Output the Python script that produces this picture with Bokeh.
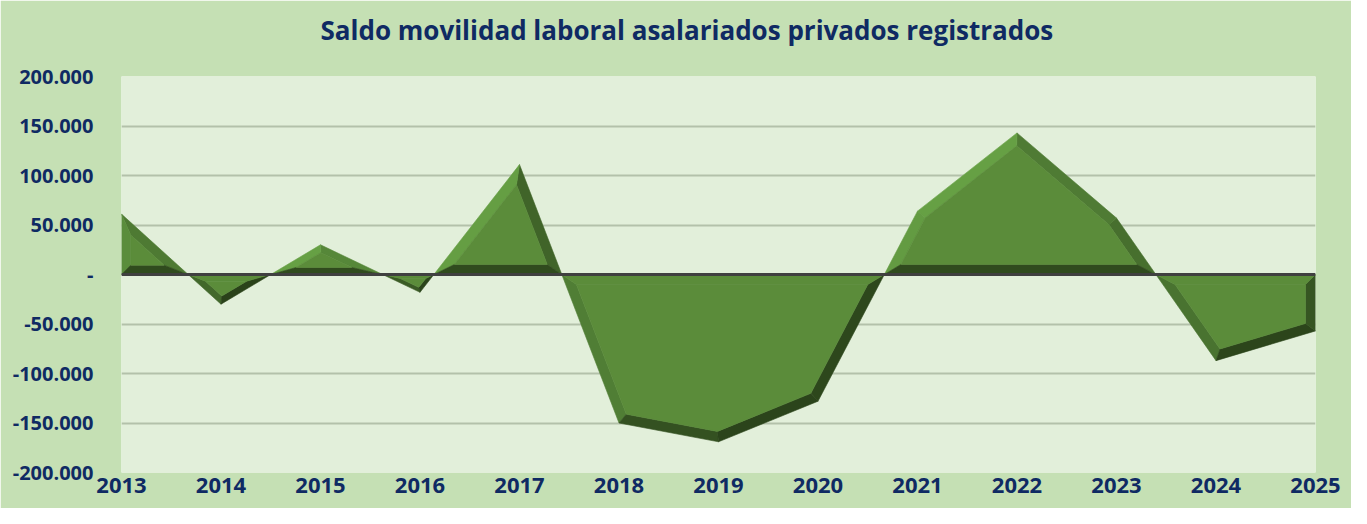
import numpy as np
from bokeh.plotting import figure
from bokeh.models import ColumnDataSource, Range1d, FixedTicker, Span, Title
from bokeh.embed import file_html
from bokeh.resources import INLINE

# ---------------- data ----------------
years = [2013, 2014, 2015, 2016, 2017, 2018, 2019, 2020, 2021, 2022, 2023, 2024, 2025]
saldo = [61000, -30000, 30000, -18000, 111000, -150000, -169000, -128000,
         64000, 143000, 57000, -87000, -57000]
y_ticks = [200000, 150000, 100000, 50000, 0, -50000, -100000, -150000, -200000]
y_tick_labels = ["200.000", "150.000", "100.000", "50.000", "-", "-50.000",
                 "-100.000", "-150.000", "-200.000"]
x_tick_labels = ["2013", "2014", "2015", "2016", "2017", "2018", "2019", "2020",
                 "2021", "2022", "2023", "2024", "2025"]
title_text = "Saldo movilidad laboral asalariados privados registrados"

# ---------------- layout ----------------
W, H = 1351, 508
BL, BR, BT, BB = 121, 36, 76, 36
FW = W - BL - BR
FH = H - BT - BB
NAVY = "#0f2a63"
FONT = "Open Sans"

p = figure(width=W, height=H, x_range=Range1d(years[0], years[-1]),
           y_range=Range1d(-200000, 200000), output_backend="svg",
           toolbar_location=None, min_border_left=BL, min_border_right=BR,
           min_border_top=BT, min_border_bottom=BB)
p.background_fill_color = "#e2efda"
p.border_fill_color = "#c5e0b4"
p.outline_line_color = None

# ---------------- 3D-like bevelled area ----------------
sx = FW / (years[-1] - years[0])
sy = FH / 400000.0
xs = np.array(years, float)
vs = np.array(saldo, float)

pts = [(xs[0], vs[0])]
for i in range(len(xs) - 1):
    v0, v1 = vs[i], vs[i + 1]
    if v0 * v1 < 0:
        xc = xs[i] + v0 / (v0 - v1) * (xs[i + 1] - xs[i])
        pts.append((xc, 0.0))
    pts.append((xs[i + 1], v1))

regions = []
cur = [(xs[0], 0.0)]
for (x, v) in pts:
    if v == 0.0:
        cur.append((x, 0.0))
        regions.append(cur)
        cur = [(x, 0.0)]
    else:
        cur.append((x, v))
cur.append((xs[-1], 0.0))
regions.append(cur)

FACE = np.array([0x5b, 0x8c, 0x3a])
DARK = np.array([0x2a, 0x42, 0x1a])
LIGHT = np.array([0x66, 0xa0, 0x44])
L = np.array([-0.6, 0.8])


def hexc(c):
    c = np.clip(np.round(c), 0, 255).astype(int)
    return "#%02x%02x%02x" % tuple(c)


poly_xs, poly_ys, poly_cols = [], [], []
for reg in regions:
    sign = np.sign(sum(v for _, v in reg))
    P = np.array([((x - years[0]) * sx, v * sy) for x, v in reg])
    n = len(P)
    area = 0.5 * sum(P[i, 0] * P[(i + 1) % n, 1] - P[(i + 1) % n, 0] * P[i, 1] for i in range(n))
    if area < 0:
        P = P[::-1]
        area = -area
    E = np.roll(P, -1, axis=0) - P
    lens = np.hypot(E[:, 0], E[:, 1])
    out = np.stack([E[:, 1], -E[:, 0]], axis=1) / lens[:, None]
    inw = -out
    r = 2 * area / lens.sum()
    d = min(10.0, 0.5 * r)
    Q = np.zeros_like(P)
    for i in range(n):
        n1 = inw[i - 1]
        n2 = inw[i]
        Q[i] = P[i] + d * (n1 + n2) / (1 + n1 @ n2)
    for i in range(n):
        j = (i + 1) % n
        on_base = abs(P[i, 1]) < 1e-9 and abs(P[j, 1]) < 1e-9
        if sign < 0 and on_base:
            col = hexc(FACE)
        else:
            t = (out[i] @ L + 1) / 2
            col = hexc(DARK + (LIGHT - DARK) * t)
        quad = np.array([P[i], P[j], Q[j], Q[i]])
        poly_xs.append(list(quad[:, 0] / sx + years[0]))
        poly_ys.append(list(quad[:, 1] / sy))
        poly_cols.append(col)
    poly_xs.append(list(Q[:, 0] / sx + years[0]))
    poly_ys.append(list(Q[:, 1] / sy))
    poly_cols.append(hexc(FACE))

src = ColumnDataSource(dict(xs=poly_xs, ys=poly_ys, c=poly_cols))
p.patches("xs", "ys", source=src, fill_color="c", line_color="c", line_width=0.6)

p.add_layout(Span(location=0, dimension="width", line_color="#404040", line_width=3))

# ---------------- axes ----------------
p.yaxis.ticker = FixedTicker(ticks=y_ticks)
p.yaxis.major_label_overrides = dict(zip(y_ticks, y_tick_labels))
p.xaxis.ticker = FixedTicker(ticks=years)
p.xaxis.major_label_overrides = dict(zip(years, x_tick_labels))
for ax in (p.xaxis, p.yaxis):
    ax.axis_line_color = None
    ax.major_tick_line_color = None
    ax.minor_tick_line_color = None
    ax.major_tick_in = 0
    ax.major_tick_out = 0
    ax.major_label_text_font = FONT
    ax.major_label_text_font_style = "bold"
    ax.major_label_text_color = NAVY
p.yaxis.major_label_text_font_size = "20px"
p.xaxis.major_label_text_font_size = "22px"
p.yaxis.major_label_standoff = 28
p.xaxis.major_label_standoff = 5

p.xgrid.visible = False
p.ygrid.grid_line_color = "#b3c1aa"
p.ygrid.grid_line_width = 2

# ---------------- title ----------------
p.add_layout(Title(text=title_text, align="left", offset=199, standoff=0,
                   vertical_align="bottom",
                   padding=dict(left=0, right=0, top=0, bottom=29),
                   text_font=FONT, text_font_style="bold",
                   text_font_size="26px", text_color=NAVY), "above")

open("out.html", "w").write(file_html(p, INLINE))
